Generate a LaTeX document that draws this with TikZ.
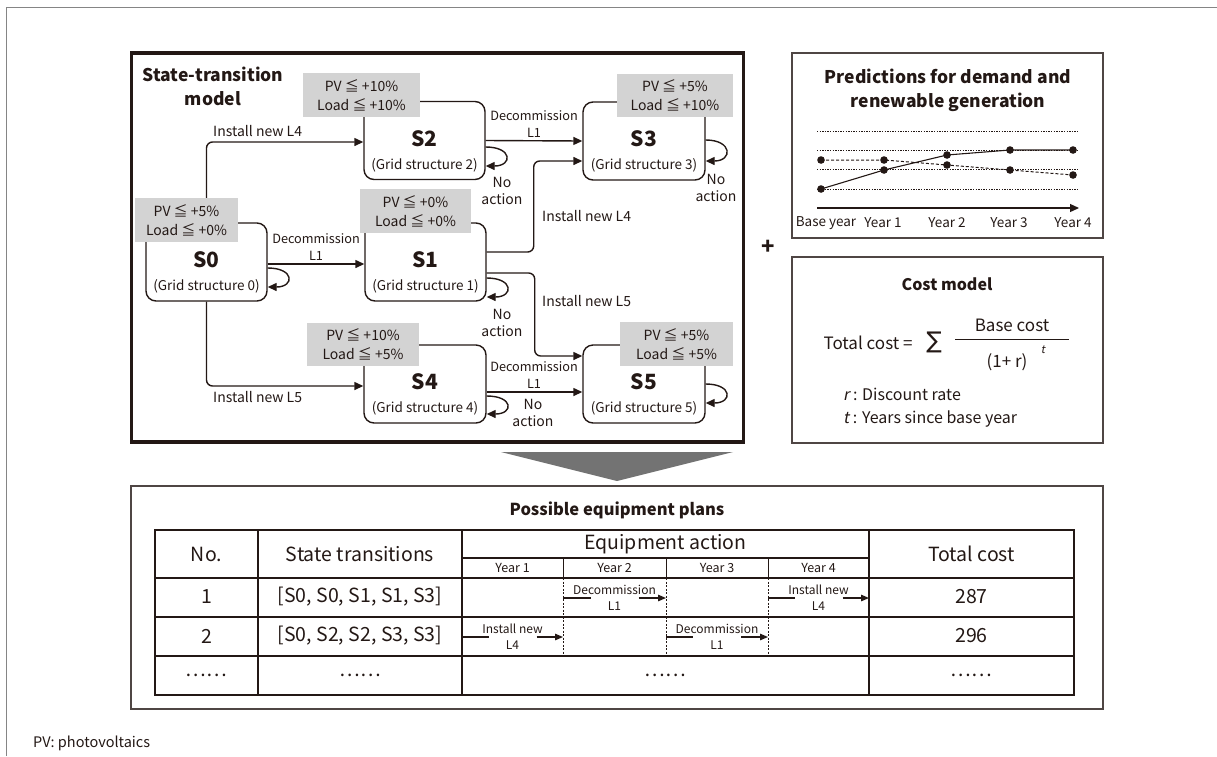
\documentclass[tikz,border=0pt]{standalone}
\usepackage{fontspec}
\setmainfont{Noto Sans CJK JP}
\newfontfamily\slfont{Noto Sans CJK JP}[FakeSlant=0.2]
\newfontfamily\djv{DejaVu Sans}
\usetikzlibrary{arrows.meta,calc}
\definecolor{ink}{HTML}{231815}
\definecolor{lgray}{HTML}{D3D3D3}
\definecolor{dgray}{HTML}{737373}
\definecolor{framec}{HTML}{858585}
\newcommand\fs[2]{\fontsize{#1}{#2}\selectfont}
\tikzset{
  conn/.style={draw=ink, line width=1.4pt, -{Triangle[length=9pt,width=8pt]}, rounded corners=6pt},
  loopc/.style={draw=ink, line width=1.4pt, -{Triangle[length=9pt,width=8pt]}},
  stbox/.style={draw=ink, line width=1.4pt, rounded corners=10pt, inner sep=0pt, minimum width=121pt, minimum height=78pt},
  cond/.style={fill=lgray, inner sep=0pt, align=center, font=\fs{14}{19}, text=ink},
  lbl/.style={font=\fs{14}{17}, text=ink, align=center, inner sep=0pt},
  dlbl/.style={font=\fs{12.7}{17}, text=ink, align=center, inner sep=0pt},
  sname/.style={font=\bfseries\fs{21}{21}, text=ink, inner sep=0pt},
  sgrid/.style={font=\fs{13.5}{16}, text=ink, inner sep=0pt},
  panel/.style={draw=ink!80, line width=1.1pt, inner sep=0pt},
  ttl/.style={font=\bfseries\fs{17.5}{24}, text=ink, align=center, inner sep=0pt},
  tline/.style={draw=ink, line width=1.3pt},
  tthin/.style={draw=ink, line width=0.8pt},
  tdash/.style={draw=ink, line width=0.8pt, dash pattern=on 2pt off 1.5pt},
  thead/.style={font=\fs{19.5}{20}, text=ink, inner sep=0pt},
  tyear/.style={font=\fs{12.5}{13}, text=ink, inner sep=0pt},
  tact/.style={font=\fs{12}{16}, text=ink, align=center, inner sep=0pt},
  tconn/.style={draw=ink, line width=1.2pt},
  grid/.style={draw=ink, line width=0.8pt, dash pattern=on 1.3pt off 1.3pt},
  dot/.style={fill=ink},
}
\begin{document}
\begin{tikzpicture}[x=1pt,y=-1pt]
\useasboundingbox (0,0) rectangle (1217,756);
% outer frame (left and top)
\draw[framec, line width=1.2pt] (6.5,756) -- (6.5,7.5) -- (1217,7.5);

% ---------------- State-transition model ----------------
\node[draw=ink, line width=3.5pt, minimum width=612pt, minimum height=389pt, inner sep=0pt] (stm) at (437.5,247.5) {};
\node[ttl] (stmt) at (213,86) {State-transition\\model};

\node[stbox] (s0) at (206.5,262) {};
\node[stbox] (s1) at (425.5,262) {};
\node[stbox] (s2) at (424.5,140.5) {};
\node[stbox, minimum width=122pt] (s3) at (644,141) {};
\node[stbox, minimum width=122pt] (s4) at (425,384) {};
\node[stbox, minimum width=122pt] (s5) at (644,384) {};

% connectors
\draw[conn] (s0.north) |- ([yshift=-1.5pt]s2.west);
\draw[conn] (s0.south) |- ([yshift=-2pt]s4.west);
\draw[conn] ([yshift=-2pt]s0.east) -- ([yshift=-2pt]s1.west);
\draw[conn] (s2.east) -- (s3.west);
\draw[conn] ([yshift=10pt]s1.east) -- ++(47,0) |- ([yshift=-20pt]s3.west);
\draw[conn] ([yshift=-11pt]s1.east) -- ++(48,0) |- ([yshift=28pt]s5.west);
\draw[conn] ([yshift=-8pt]s4.east) -- ([yshift=-8pt]s5.west);

% self loops
\draw[loopc] ([yshift=-6pt]s0.east) .. controls +(27,0) and +(27,0) .. ([yshift=-25pt]s0.east);
\draw[loopc] ([yshift=-6.5pt]s2.east) .. controls +(27,0) and +(27,0) .. ([yshift=-25.5pt]s2.east);
\draw[loopc] ([yshift=-16pt]s1.east) .. controls +(27,0) and +(27,0) .. ([yshift=-35pt]s1.east);
\draw[loopc] ([yshift=-12pt]s4.east) .. controls +(27,0) and +(27,0) .. ([yshift=-30pt]s4.east);
\draw[loopc] ([yshift=1pt]s3.east) .. controls +(27,0) and +(27,0) .. ([yshift=-20pt]s3.east);
\draw[loopc] ([yshift=0pt]s5.east) .. controls +(27,0) and +(27,0) .. ([yshift=-19pt]s5.east);

% condition boxes
\node[cond, minimum width=103pt, minimum height=44pt] (c0) at (186.5,220) {PV ≦ +5\%\\Load ≦ +0\%};
\node[cond, minimum width=111pt, minimum height=44pt] (c1) at (415.5,211) {PV ≦ +0\%\\Load ≦ +0\%};
\node[cond, minimum width=117pt, minimum height=44pt] (c2) at (361.5,95) {PV ≦ +10\%\\Load ≦ +10\%};
\node[cond, minimum width=116pt, minimum height=43pt] (c3) at (675,95.5) {PV ≦ +5\%\\Load ≦ +10\%};
\node[cond, minimum width=112pt, minimum height=43pt] (c4) at (363,344.5) {PV ≦ +10\%\\Load ≦ +5\%};
\node[cond, minimum width=113pt, minimum height=44pt] (c5) at (676.5,344) {PV ≦ +5\%\\Load ≦ +5\%};

% state texts
\foreach \s/\n in {s0/0,s1/1,s2/2,s3/3,s4/4,s5/5}{
  \node[sname] (\s n) at ([yshift=2pt]\s.center) {S\n};
  \node[sgrid] (\s g) at ([yshift=-24.5pt]\s.center) {(Grid structure \n)};
}

% connector labels
\node[lbl, anchor=south west] (l02) at (213,137) {Install new L4};
\node[lbl, anchor=north west] (l04) at (213,391) {Install new L5};
\node[dlbl, anchor=south] (l01) at (316,261) {Decommission\\L1};
\node[dlbl, anchor=south] (l23) at (534,138) {Decommission\\L1};
\node[dlbl, anchor=south] (l45) at (534,389) {Decommission\\L1};
\node[lbl, anchor=west] (l13) at (542,216) {Install new L4};
\node[lbl, anchor=west] (l15) at (542,301) {Install new L5};
\node[lbl] (na2) at (502,191) {No\\action};
\node[lbl] (na1) at (502,323) {No\\action};
\node[lbl] (na4) at (533,413) {No\\action};
\node[lbl] (na3) at (716,188) {No\\action};

% plus
\node[font=\bfseries\fs{22}{22}, text=ink, inner sep=0pt] (plus) at (768,247) {+};

% ---------------- Predictions ----------------
\node[panel, minimum width=311pt, minimum height=185pt] (pred) at (947.5,145.5) {};
\node[ttl] (predt) at (948,90.5) {Predictions for demand and\\renewable generation};
\foreach \yy in {131,150,169,189}{ \draw[grid] (817,\yy) -- (1078,\yy); }
\coordinate (a0) at (821,189); \coordinate (a1) at (884,170); \coordinate (a2) at (947,155);
\coordinate (a3) at (1010,150); \coordinate (a4) at (1073,150);
\coordinate (b0) at (821,160); \coordinate (b1) at (884,160); \coordinate (b2) at (947,165);
\coordinate (b3) at (1010,170); \coordinate (b4) at (1073,175);
\draw[ink, line width=1.1pt] (a0) -- (a1) -- (a2) -- (a3) -- (a4);
\draw[ink, line width=1pt, dash pattern=on 3pt off 2pt] (b0) -- (b1) -- (b2) -- (b3) -- (b4);
\foreach \p in {a0,a1,a2,a3,a4,b0,b1,b2,b3,b4}{ \fill[dot] (\p) circle (3.8pt); }
\coordinate (ax0) at (817,208); \coordinate (ax1) at (1079,208);
\draw[ink, line width=1.2pt, -{Triangle[length=9pt,width=8pt]}] (ax0) -- (ax1);
\foreach \xx/\tt in {826/Base year,883/Year 1,947/Year 2,1009/Year 3,1073/Year 4}{
  \node[font=\fs{13.5}{14}, text=ink, inner sep=0pt] at (\xx,223) {\tt};
}

% ---------------- Cost model ----------------
\node[panel, minimum width=311pt, minimum height=186pt] (cost) at (947.5,350) {};
\node[font=\bfseries\fs{16}{16}, text=ink, inner sep=0pt] (costt) at (947,284) {Cost model};
\node[font=\fs{17}{17}, text=ink, inner sep=0pt] (tc) at (868,343) {Total cost =};
\node[font=\djv\fs{23}{23}, text=ink, inner sep=0pt] (sig) at (934,342) {∑};
\node[font=\fs{17}{17}, text=ink, inner sep=0pt] (bc) at (1012,325) {Base cost};
\coordinate (fr0) at (955,339); \coordinate (fr1) at (1069,339);
\draw[ink, line width=1pt] (fr0) -- (fr1);
\node[font=\fs{17}{17}, text=ink, inner sep=0pt] (den) at (1007,362) {(1+ r)};
\node[font=\slfont\fs{11}{11}, text=ink, inner sep=0pt] (sup) at (1043,350) {t};
\node[font=\fs{16}{16}, text=ink, inner sep=0pt, anchor=west] (rr) at (843,394) {{\slfont r} : Discount rate};
\node[font=\fs{16}{16}, text=ink, inner sep=0pt, anchor=west] (tt) at (843,419) {{\slfont t} : Years since base year};

% ---------------- Arrow down ----------------
\fill[dgray] (501,452) -- (733,452) -- (617,481) -- cycle;

% ---------------- Possible equipment plans ----------------
\node[panel, minimum width=972pt, minimum height=223pt] (bot) at (617,597.5) {};
\node[font=\bfseries\fs{16.5}{17}, text=ink, inner sep=0pt] (bott) at (617,510) {Possible equipment plans};

% table lines
\draw[tline] (155,530) rectangle (1074,695);
\foreach \yy in {578,617,656}{ \draw[tline] (155,\yy) -- (1074,\yy); }
\draw[tline] (462,558) -- (869,558);
\foreach \xx in {258,462,869}{ \draw[tline] (\xx,530) -- (\xx,695); }
\foreach \xx in {563,666,768}{
  \draw[tthin] (\xx,558) -- (\xx,578);
  \draw[tdash] (\xx,578) -- (\xx,656);
}
% header
\node[thead] at (206.5,554) {No.};
\node[thead] at (360,554) {State transitions};
\node[thead] at (665.5,544) {Equipment action};
\node[thead] at (971.5,554) {Total cost};
\node[tyear] at (512.5,568) {Year 1};
\node[tyear] at (614.5,568) {Year 2};
\node[tyear] at (717,568) {Year 3};
\node[tyear] at (818.5,568) {Year 4};
% rows
\node[thead] at (206.5,597) {1};
\node[thead] at (360,597) {[S0, S0, S1, S1, S3]};
\node[thead] at (971.5,597) {287};
\node[thead] at (206.5,636) {2};
\node[thead] at (360,636) {[S0, S2, S2, S3, S3]};
\node[thead] at (971.5,636) {296};
\node[thead] at (206.5,675) {……};
\node[thead] at (360,675) {……};
\node[thead] at (665.5,675) {……};
\node[thead] at (971.5,675) {……};
% actions in cells
\foreach \nm/\xa/\xb/\yy/\ta/\tb in {ka/563/666/598/Decommission/L1, kb/768/869/598/Install new/L4, kc/462/563/637/Install new/L4, kd/666/768/637/Decommission/L1}{
  \coordinate (\nm L) at (\xa,\yy);
  \coordinate (\nm R) at (\xb,\yy);
  \coordinate (\nm M) at ($(\nm L)!0.5!(\nm R)$);
  \draw[tconn] (\nm L) -- ([xshift=-24pt]\nm M);
  \draw[tconn, -{Triangle[length=8pt,width=6.5pt]}] ([xshift=24pt]\nm M) -- (\nm R);
  \node[tact] at (\nm M) {\ta\\\tb};
}

% footnote
\node[font=\fs{14.5}{15}, text=ink, inner sep=0pt, anchor=west] (fn) at (33,743) {PV: photovoltaics};
\end{tikzpicture}
\end{document}
